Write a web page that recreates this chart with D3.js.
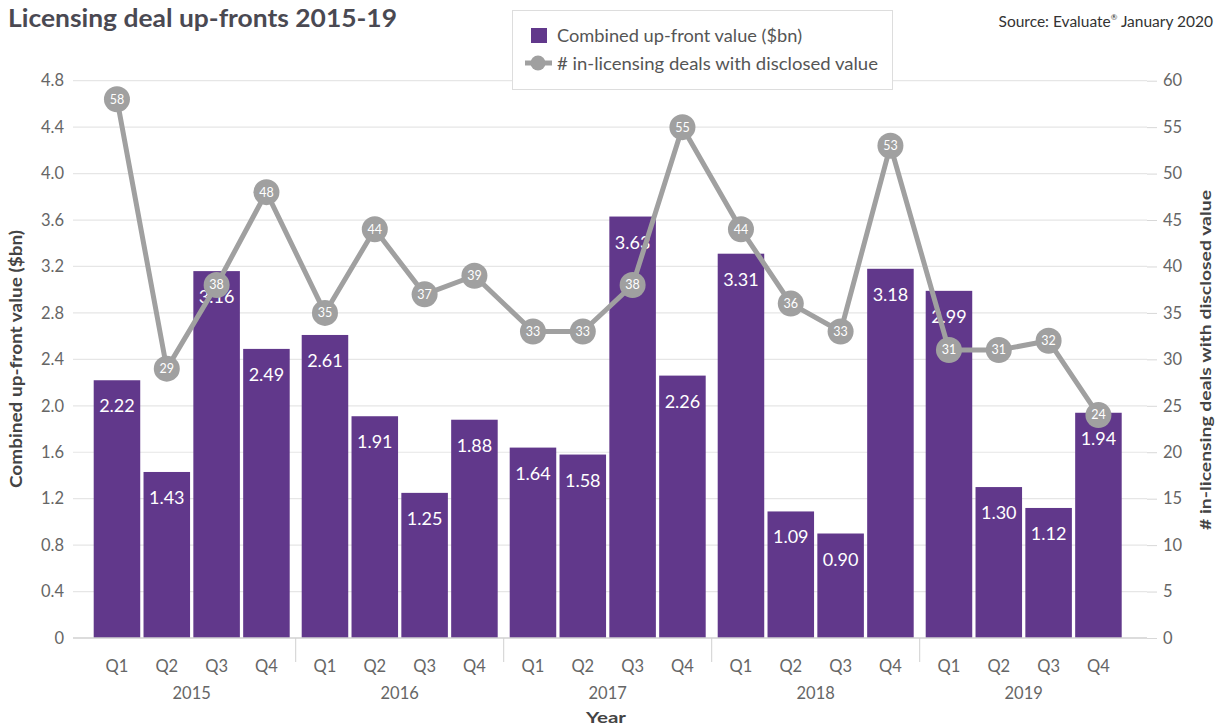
<!DOCTYPE html>
<html>
<head>
<meta charset="utf-8">
<script src="https://cdn.jsdelivr.net/npm/d3@7"></script>
<style>
  body { margin: 0; background: #fff; }
  svg { display: block; font-family: Lato, "Open Sans", sans-serif; }
</style>
</head>
<body>
<svg id="chart" width="1215" height="727"></svg>
<script>
// Quarterly licensing deal data, 2015-19
const years = ["2015", "2016", "2017", "2018", "2019"];
const quarters = ["Q1", "Q2", "Q3", "Q4"];
const upfrontValue = [
  2.22, 1.43, 3.16, 2.49,
  2.61, 1.91, 1.25, 1.88,
  1.64, 1.58, 3.63, 2.26,
  3.31, 1.09, 0.90, 3.18,
  2.99, 1.30, 1.12, 1.94
];
const dealCount = [
  58, 29, 38, 48,
  35, 44, 37, 39,
  33, 33, 38, 55,
  44, 36, 33, 53,
  31, 31, 32, 24
];
const leftTicks = [0, 0.4, 0.8, 1.2, 1.6, 2.0, 2.4, 2.8, 3.2, 3.6, 4.0, 4.4, 4.8];
const rightTicks = [0, 5, 10, 15, 20, 25, 30, 35, 40, 45, 50, 55, 60];

const rows = [];
years.forEach((y, i) => quarters.forEach((q, j) => {
  const k = i * 4 + j;
  rows.push({ year: y, quarter: q, value: upfrontValue[k], deals: dealCount[k] });
}));

const svg = d3.select("#chart");
const plot = { left: 73, right: 1147, top: 80.7, bottom: 638 };
const barColor = "#61388b";
const lineColor = "#a0a0a0";

const xYear = d3.scaleBand().domain(years).range([87.7, 1127.7]).padding(0);
const xQuarter = d3.scaleBand().domain(quarters)
  .range([6, xYear.bandwidth() - 6]).paddingInner(0.066).paddingOuter(0);
const yLeft = d3.scaleLinear().domain([0, 4.8]).range([plot.bottom, plot.top]);
const yRight = d3.scaleLinear().domain([0, 60]).range([plot.bottom, plot.top]);
const cx = d => xYear(d.year) + xQuarter(d.quarter) + xQuarter.bandwidth() / 2;

// Gridlines
svg.append("g")
  .selectAll("line").data(leftTicks.slice(1)).join("line")
  .attr("x1", plot.left).attr("x2", plot.right)
  .attr("y1", d => yLeft(d)).attr("y2", d => yLeft(d))
  .attr("stroke", "#e6e6e6").attr("stroke-width", 1.2);

// Left axis
const leftAxis = svg.append("g")
  .attr("transform", `translate(${plot.left},0)`)
  .call(d3.axisLeft(yLeft).tickValues(leftTicks).tickSize(0).tickPadding(9)
    .tickFormat(d => d === 0 ? "0" : d3.format(".1f")(d)));
leftAxis.select(".domain").remove();
leftAxis.selectAll("text").attr("font-size", 16.5).attr("fill", "#666")
  .attr("font-family", "Lato, sans-serif");

// Right axis
const rightAxis = svg.append("g")
  .attr("transform", `translate(${plot.right},0)`)
  .call(d3.axisRight(yRight).tickValues(rightTicks).tickSize(10).tickPadding(6));
rightAxis.select(".domain").remove();
rightAxis.selectAll("line").attr("stroke", "#d8d8d8");
rightAxis.selectAll("text").attr("font-size", 16.5).attr("fill", "#666")
  .attr("font-family", "Lato, sans-serif");

// Bars
svg.append("g")
  .selectAll("rect").data(rows).join("rect")
  .attr("x", d => xYear(d.year) + xQuarter(d.quarter))
  .attr("width", xQuarter.bandwidth())
  .attr("y", d => yLeft(d.value))
  .attr("height", d => yLeft(0) - yLeft(d.value))
  .attr("fill", barColor);

// Bar value labels
svg.append("g")
  .selectAll("text").data(rows).join("text")
  .attr("x", cx)
  .attr("y", d => yLeft(d.value) + 32)
  .attr("text-anchor", "middle")
  .attr("font-size", 18).attr("fill", "#fff")
  .text(d => d3.format(".2f")(d.value));

// Baseline
svg.append("line")
  .attr("x1", plot.left).attr("x2", plot.right)
  .attr("y1", plot.bottom).attr("y2", plot.bottom)
  .attr("stroke", "#d0d0d0").attr("stroke-width", 1.5);

// Year separators
svg.append("g")
  .selectAll("line").data(years.slice(1)).join("line")
  .attr("x1", d => xYear(d)).attr("x2", d => xYear(d))
  .attr("y1", plot.bottom).attr("y2", plot.bottom + 24)
  .attr("stroke", "#d0d0d0").attr("stroke-width", 1);

// Quarter labels
svg.append("g")
  .selectAll("text").data(rows).join("text")
  .attr("x", cx).attr("y", 672)
  .attr("text-anchor", "middle")
  .attr("font-size", 16.5).attr("fill", "#666")
  .text(d => d.quarter);

// Year labels
svg.append("g")
  .selectAll("text").data(years).join("text")
  .attr("x", d => xYear(d) + xYear.bandwidth() / 2).attr("y", 699)
  .attr("text-anchor", "middle")
  .attr("font-size", 16.5).attr("fill", "#666")
  .text(d => d);

// Deal count line
const line = d3.line().x(cx).y(d => yRight(d.deals));
svg.append("path").datum(rows)
  .attr("d", line)
  .attr("fill", "none").attr("stroke", lineColor).attr("stroke-width", 5)
  .attr("stroke-linejoin", "round");

const pts = svg.append("g").selectAll("g").data(rows).join("g")
  .attr("transform", d => `translate(${cx(d)},${yRight(d.deals)})`);
pts.append("circle").attr("r", 13).attr("fill", lineColor);
pts.append("text")
  .attr("text-anchor", "middle").attr("dy", "0.35em")
  .attr("font-size", 12.5).attr("fill", "#fff")
  .text(d => d.deals);

// Title
svg.append("text")
  .attr("x", 8).attr("y", 27)
  .attr("font-size", 24).attr("font-weight", "bold").attr("fill", "#4a4952")
  .attr("textLength", 389).attr("lengthAdjust", "spacingAndGlyphs")
  .text("Licensing deal up-fronts 2015-19");

// Source note
const src = svg.append("text")
  .attr("x", 1213).attr("y", 27)
  .attr("text-anchor", "end")
  .attr("font-size", 15.5).attr("fill", "#333");
src.append("tspan").text("Source: Evaluate");
src.append("tspan").attr("font-size", 8).attr("dy", -7).text("®");
src.append("tspan").attr("dy", 7).text(" January 2020");

// Legend
const legend = svg.append("g");
legend.append("rect")
  .attr("x", 512.5).attr("y", 10.5).attr("width", 380).attr("height", 79)
  .attr("fill", "#fff").attr("stroke", "#dddddd");
legend.append("rect")
  .attr("x", 531).attr("y", 28).attr("width", 16).attr("height", 15)
  .attr("fill", barColor);
legend.append("text")
  .attr("x", 557).attr("y", 42)
  .attr("font-size", 18).attr("fill", "#555")
  .attr("textLength", 245).attr("lengthAdjust", "spacingAndGlyphs")
  .text("Combined up-front value ($bn)");
legend.append("line")
  .attr("x1", 525).attr("x2", 552).attr("y1", 63).attr("y2", 63)
  .attr("stroke", lineColor).attr("stroke-width", 5);
legend.append("circle").attr("cx", 538).attr("cy", 63).attr("r", 7.5).attr("fill", lineColor);
legend.append("text")
  .attr("x", 557).attr("y", 70)
  .attr("font-size", 18).attr("fill", "#555")
  .attr("textLength", 321).attr("lengthAdjust", "spacingAndGlyphs")
  .text("# in-licensing deals with disclosed value");

// Axis titles
svg.append("text")
  .attr("transform", "translate(22,359) rotate(-90)")
  .attr("text-anchor", "middle")
  .attr("font-size", 17).attr("font-weight", "bold").attr("fill", "#444")
  .attr("textLength", 258).attr("lengthAdjust", "spacingAndGlyphs")
  .text("Combined up-front value ($bn)");
svg.append("text")
  .attr("transform", "translate(1211,360) rotate(-90)")
  .attr("text-anchor", "middle")
  .attr("font-size", 16).attr("font-weight", "bold").attr("fill", "#444")
  .attr("textLength", 340).attr("lengthAdjust", "spacingAndGlyphs")
  .text("# in-licensing deals with disclosed value");
svg.append("text")
  .attr("x", 606).attr("y", 723)
  .attr("text-anchor", "middle")
  .attr("font-size", 16).attr("font-weight", "bold").attr("fill", "#444")
  .attr("textLength", 40).attr("lengthAdjust", "spacingAndGlyphs")
  .text("Year");
</script>
</body>
</html>
